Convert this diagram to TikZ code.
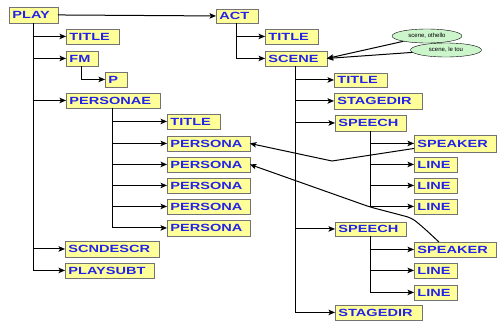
\documentclass[tikz,border=0pt]{standalone}
\usepackage{fontspec}
\setmainfont{Liberation Sans}
\usetikzlibrary{arrows.meta,shadows,shapes.geometric}
\definecolor{boxfill}{HTML}{FFFF99}
\definecolor{boxtext}{HTML}{2424E8}
\definecolor{ellfill}{HTML}{CCF5CC}
\newcommand\widetxt[1]{\scalebox{1.4}[1.0]{#1}}
\newcommand\bx[6]{%
  \node[box, minimum width={#4-#2-1.5}, minimum height={#5-#3-1.5}, anchor=north west]
    (#1) at (#2,#3) {\makebox[\dimexpr #4pt-#2pt-8pt\relax][l]{\widetxt{#6}}};}
\tikzset{
  box/.style={draw=black!55, fill=boxfill, inner sep=2.5pt, text=boxtext,
    font=\fontsize{10.4}{11}\selectfont\bfseries,
    drop shadow={shadow xshift=1.3pt, shadow yshift=-1.3pt, fill=black!75, opacity=1}},
  ell/.style={ellipse, draw=black, fill=ellfill, inner sep=0pt, font=\fontsize{6}{6.5}\selectfont},
  arr/.style={-{Stealth[length=6.5pt,width=5.5pt,inset=1.5pt]}, line width=1pt, black},
  ln/.style={line width=1pt, black}
}
\begin{document}
\begin{tikzpicture}[x=1pt,y=-1pt]
\useasboundingbox (0,0) rectangle (498,322);
% left tree
\bx{play}{9}{7}{59}{24}{PLAY}
\bx{ptitle}{66}{29}{120}{45}{TITLE}
\bx{fm}{66}{51}{99}{67}{FM}
\bx{p}{105}{72}{128}{88}{P}
\bx{personae}{66}{93}{161}{109}{PERSONAE}
\bx{pstitle}{167}{114}{221}{130}{TITLE}
\bx{persona1}{167}{136}{251}{152}{PERSONA}
\bx{persona2}{167}{157}{251}{173}{PERSONA}
\bx{persona3}{167}{178}{251}{194}{PERSONA}
\bx{persona4}{167}{199}{251}{215}{PERSONA}
\bx{persona5}{167}{220}{251}{237}{PERSONA}
\bx{scndescr}{65}{241}{160}{258}{SCNDESCR}
\bx{playsubt}{65}{263}{155}{279}{PLAYSUBT}
% right tree
\bx{act}{216}{9}{259}{24}{ACT}
\bx{atitle}{265}{29}{319}{45}{TITLE}
\bx{scene}{265}{51}{328}{67}{SCENE}
\bx{stitle}{334}{73}{388}{88}{TITLE}
\bx{stagedir1}{334}{93}{423}{110}{STAGEDIR}
\bx{speech1}{335}{115}{407}{132}{SPEECH}
\bx{speaker1}{414}{135}{497}{153}{SPEAKER}
\bx{line1}{414}{157}{458}{173}{LINE}
\bx{line2}{414}{178}{458}{194}{LINE}
\bx{line3}{414}{199}{458}{215}{LINE}
\bx{speech2}{335}{222}{407}{237}{SPEECH}
\bx{speaker2}{414}{242}{497}{258}{SPEAKER}
\bx{line4}{414}{263}{458}{279}{LINE}
\bx{line5}{414}{285}{458}{301}{LINE}
\bx{stagedir2}{335}{305}{423}{321}{STAGEDIR}
% ellipses
\node[ell, minimum width=70, minimum height=14] (e1) at (427,36) {scene, othello};
\node[ell, minimum width=71, minimum height=14] (e2) at (446,50) {scene, le tou};
% PLAY connectors
\draw[arr] (play.east) -- (act.west);
\draw[arr] (play.south) |- (playsubt.west);
\foreach \t in {ptitle,fm,personae,scndescr}
  \draw[arr] (play.south |- \t.west) -- (\t.west);
\draw[arr] (fm.south) |- (p.west);
\draw[arr] (personae.south) |- (persona5.west);
\foreach \t in {pstitle,persona1,persona2,persona3,persona4}
  \draw[arr] (personae.south |- \t.west) -- (\t.west);
% ACT connectors
\draw[arr] (act.south) |- (scene.west);
\draw[arr] (act.south |- atitle.west) -- (atitle.west);
\draw[arr] (scene.south) |- (stagedir2.west);
\foreach \t in {stitle,stagedir1,speech1,speech2}
  \draw[arr] (scene.south |- \t.west) -- (\t.west);
\draw[arr] (speech1.south) |- (line3.west);
\foreach \t in {speaker1,line1,line2}
  \draw[arr] (speech1.south |- \t.west) -- (\t.west);
\draw[arr] (speech2.south) |- (line5.west);
\foreach \t in {speaker2,line4}
  \draw[arr] (speech2.south |- \t.west) -- (\t.west);
% ellipse arrows
\draw[arr] (e1) -- (scene.east);
\draw[arr] (e2) -- (scene.east);
% cross references
\coordinate (k1) at (332,161);
\draw[arr] ([yshift=-5pt]speaker1.west) -- (k1) -- (persona1.east);
\coordinate (k2) at (425,229);
\coordinate (k3) at (412,218);
\coordinate (k4) at (370,207);
\draw[arr, rounded corners=6pt] ([xshift=-16pt]speaker2.north) -- (k2) -- (k3) -- (k4) -- (persona2.east);
\end{tikzpicture}
\end{document}
